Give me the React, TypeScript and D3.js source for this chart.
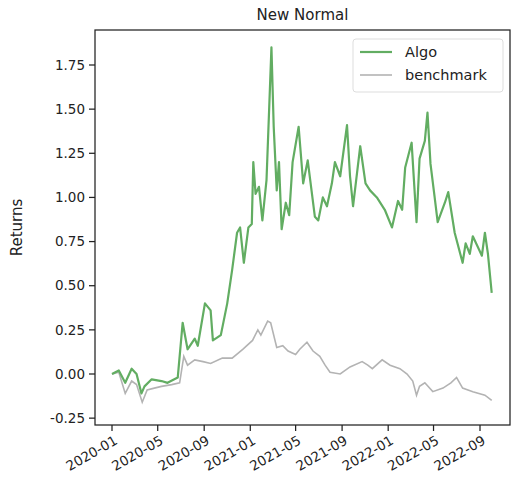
import React from 'react';
import * as d3 from 'd3';

const algoDates = ['2020-01-01','2020-01-19','2020-02-05','2020-02-22','2020-03-06','2020-03-19','2020-03-27','2020-04-15','2020-05-11','2020-05-27','2020-06-23','2020-07-06','2020-07-19','2020-08-07','2020-08-15','2020-09-03','2020-09-18','2020-09-24','2020-10-15','2020-11-01','2020-11-14','2020-11-27','2020-12-05','2020-12-15','2020-12-27','2021-01-05','2021-01-09','2021-01-15','2021-01-24','2021-02-02','2021-02-13','2021-02-26','2021-03-04','2021-03-12','2021-03-18','2021-03-25','2021-04-05','2021-04-14','2021-04-23','2021-05-09','2021-05-21','2021-06-02','2021-06-21','2021-06-30','2021-07-12','2021-07-23','2021-08-05','2021-08-13','2021-08-27','2021-09-14','2021-09-22','2021-09-30','2021-10-19','2021-11-02','2021-11-14','2021-12-02','2021-12-23','2022-01-11','2022-01-27','2022-02-07','2022-02-15','2022-03-04','2022-03-17','2022-03-25','2022-04-08','2022-04-15','2022-04-23','2022-05-04','2022-05-12','2022-05-31','2022-06-09','2022-06-26','2022-07-17','2022-07-25','2022-08-05','2022-08-13','2022-09-06','2022-09-14','2022-09-22','2022-10-02'];
const algoValues = [0.00,0.02,-0.05,0.03,0.00,-0.11,-0.07,-0.03,-0.04,-0.05,-0.02,0.29,0.14,0.20,0.16,0.40,0.36,0.19,0.22,0.40,0.59,0.80,0.83,0.63,0.83,0.85,1.20,1.02,1.06,0.87,1.10,1.85,1.40,1.04,1.20,0.82,0.97,0.90,1.20,1.40,1.08,1.21,0.89,0.87,1.00,0.95,1.08,1.20,1.12,1.41,1.12,0.95,1.29,1.08,1.04,1.00,0.93,0.83,0.98,0.93,1.17,1.31,0.86,1.22,1.32,1.48,1.19,1.00,0.86,0.97,1.03,0.80,0.63,0.74,0.68,0.78,0.67,0.80,0.68,0.46];

const benchDates = ['2020-01-01','2020-01-19','2020-02-05','2020-02-22','2020-03-06','2020-03-21','2020-04-03','2020-04-22','2020-05-11','2020-06-07','2020-06-28','2020-07-09','2020-07-19','2020-08-07','2020-08-29','2020-09-18','2020-10-19','2020-11-14','2020-12-12','2021-01-07','2021-01-21','2021-01-29','2021-02-16','2021-02-24','2021-03-12','2021-03-28','2021-04-11','2021-05-01','2021-05-12','2021-05-31','2021-06-16','2021-07-04','2021-07-18','2021-07-31','2021-08-27','2021-09-22','2021-10-24','2021-11-08','2021-11-20','2021-12-16','2022-01-06','2022-02-01','2022-02-20','2022-03-07','2022-03-17','2022-03-25','2022-04-08','2022-04-29','2022-05-26','2022-06-16','2022-07-01','2022-07-17','2022-08-13','2022-09-14','2022-10-02'];
const benchValues = [0.00,0.01,-0.11,-0.04,-0.06,-0.16,-0.09,-0.08,-0.07,-0.06,-0.05,0.10,0.05,0.08,0.07,0.06,0.09,0.09,0.14,0.19,0.25,0.22,0.30,0.29,0.15,0.16,0.13,0.11,0.14,0.18,0.13,0.10,0.05,0.01,0.00,0.04,0.07,0.05,0.03,0.08,0.05,0.03,0.00,-0.04,-0.12,-0.07,-0.05,-0.10,-0.08,-0.05,-0.02,-0.08,-0.10,-0.12,-0.15];

const yTicks = [-0.25, 0, 0.25, 0.5, 0.75, 1.0, 1.25, 1.5, 1.75];
const xTicks = ['2020-01','2020-05','2020-09','2021-01','2021-05','2021-09','2022-01','2022-05','2022-09'];

const parse = d3.timeParse('%Y-%m-%d');
const parseM = d3.timeParse('%Y-%m');
const font = 'DejaVu Sans, sans-serif';

export default function App() {
  const W = 520, H = 492;
  const L = 95, R = 510, T = 30, B = 425;
  const x = d3.scaleTime().domain([parse('2020-01-01')!, parse('2022-09-01')!]).range([112, 480]);
  const y = d3.scaleLinear().domain([0, 1.75]).range([374, 65]);
  const line = d3.line<[Date, number]>().x(d => x(d[0])).y(d => y(d[1]));
  const algo = algoDates.map((d, i) => [parse(d)!, algoValues[i]] as [Date, number]);
  const bench = benchDates.map((d, i) => [parse(d)!, benchValues[i]] as [Date, number]);
  return (
    <svg width={W} height={H} style={{ position: 'absolute', left: 0, top: 0 }} fontFamily={font}>
      <rect width={W} height={H} fill="#fff" />
      <path d={line(bench)!} fill="none" stroke="#b3b3b3" strokeWidth={1.6} />
      <path d={line(algo)!} fill="none" stroke="#62ad62" strokeWidth={2.2} strokeLinejoin="round" />
      <rect x={L} y={T} width={R - L} height={B - T} fill="none" stroke="#222" strokeWidth={1.25} />
      {yTicks.map(t => (
        <g key={t}>
          <line x1={L} x2={L - 6} y1={y(t)} y2={y(t)} stroke="#222" strokeWidth={1.25} />
          <text x={L - 10} y={y(t)} dy="0.35em" textAnchor="end" fontSize={13.5} fill="#222">{t.toFixed(2)}</text>
        </g>
      ))}
      {xTicks.map(t => {
        const px = x(parseM(t)!);
        return (
          <g key={t}>
            <line x1={px} x2={px} y1={B} y2={B + 6} stroke="#222" strokeWidth={1.25} />
            <text transform={`translate(${px + 4},${B + 14}) rotate(-30)`} textAnchor="end" dy="0.35em" fontSize={13.5} fill="#222">{t}</text>
          </g>
        );
      })}
      <text x={(L + R) / 2} y={20} textAnchor="middle" fontSize={15} fill="#222">New Normal</text>
      <text transform={`translate(22,${(T + B) / 2}) rotate(-90)`} textAnchor="middle" fontSize={15} fill="#222">Returns</text>
      <g>
        <rect x={353} y={39} width={150} height={53} rx={3} fill="#fff" stroke="#ddd" />
        <line x1={360} x2={392} y1={52} y2={52} stroke="#62ad62" strokeWidth={2.2} />
        <text x={405} y={52} dy="0.35em" fontSize={14.5} fill="#222">Algo</text>
        <line x1={360} x2={392} y1={75} y2={75} stroke="#b3b3b3" strokeWidth={1.6} />
        <text x={405} y={75} dy="0.35em" fontSize={14.5} fill="#222">benchmark</text>
      </g>
    </svg>
  );
}
